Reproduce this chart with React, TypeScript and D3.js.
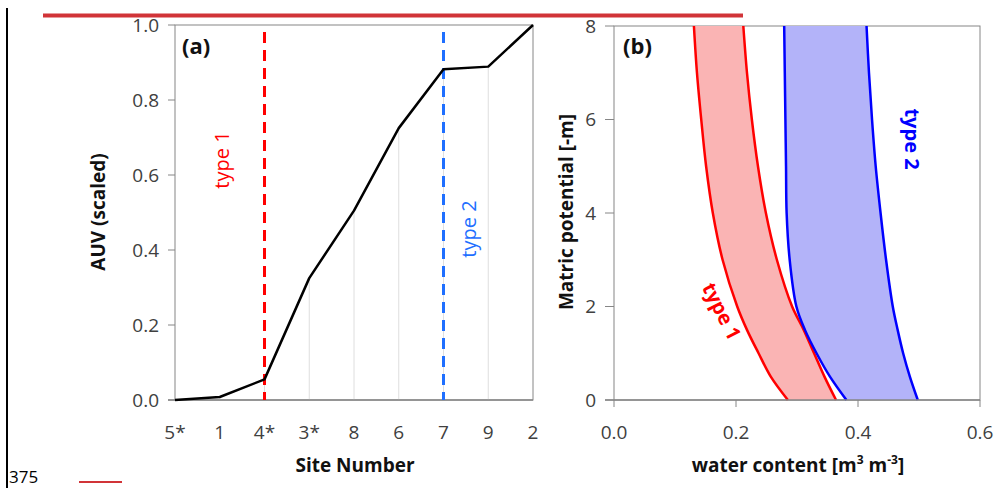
import * as d3 from 'd3'

// panel (a): scaled AUV by site
const sites = ['5*', '1', '4*', '3*', '8', '6', '7', '9', '2']
const auv = [0.0, 0.008, 0.055, 0.325, 0.505, 0.725, 0.882, 0.889, 1.0]
const auvTicks = [0, 0.2, 0.4, 0.6, 0.8, 1.0]

// panel (b): retention curves, matric potential vs water content
const potential = [0, 0.5, 1, 1.5, 2, 3, 4, 5, 6, 7, 8]
const type1Low = [0.285, 0.257, 0.237, 0.218, 0.202, 0.178, 0.162, 0.151, 0.143, 0.136, 0.131]
const type1High = [0.364, 0.345, 0.328, 0.311, 0.292, 0.267, 0.249, 0.236, 0.226, 0.218, 0.212]
const type2Low = [0.381, 0.354, 0.332, 0.313, 0.299, 0.288, 0.283, 0.282, 0.281, 0.28, 0.279]
const type2High = [0.498, 0.485, 0.474, 0.465, 0.457, 0.446, 0.437, 0.429, 0.423, 0.418, 0.414]
const thetaTicks = [0, 0.2, 0.4, 0.6]
const psiTicks = [0, 2, 4, 6, 8]

const font = '"Open Sans", Lato, sans-serif'
const grey = '#868686'
const tickCol = '#404040'

export default function App() {
  const W = 999
  const H = 488

  // (a)
  const xA = d3.scalePoint<string>().domain(sites).range([175, 533])
  const yA = d3.scaleLinear().domain([0, 1]).range([400, 25])
  const auvLine = d3.line<number>()
    .x((_, i) => xA(sites[i])!)
    .y(d => yA(d))

  // (b)
  const xB = d3.scaleLinear().domain([0, 0.6]).range([614, 980])
  const yB = d3.scaleLinear().domain([0, 8]).range([400, 26])

  const band = (lo: number[], hi: number[]) =>
    d3.area<number>()
      .y(d => yB(d))
      .x0((_, i) => xB(lo[i]))
      .x1((_, i) => xB(hi[i]))
      .curve(d3.curveCatmullRom)(potential)!

  const edge = (th: number[]) =>
    d3.line<number>()
      .y(d => yB(d))
      .x((_, i) => xB(th[i]))
      .curve(d3.curveCatmullRom)(potential)!

  return (
    <svg width={W} height={H} style={{ position: 'absolute', left: 0, top: 0 }}
      fontFamily={font}>
      <rect width={W} height={H} fill="#fff" />

      {/* page decorations */}
      <line x1={7} x2={7} y1={8} y2={488} stroke="#000" strokeWidth={2} />
      <line x1={43} x2={743} y1={15.5} y2={15.5} stroke="#d13438" strokeWidth={4} />
      <text x={9} y={483} fontSize={17} fill="#000">375</text>
      <line x1={79} x2={122} y1={482} y2={482} stroke="#d13438" strokeWidth={2} />

      {/* ---------- panel (a) ---------- */}
      <rect x={175} y={25} width={358} height={375} fill="none" stroke={grey} strokeWidth={1} />
      {auv.map((v, i) => i > 0 && i < auv.length - 1 ? (
        <line key={i} x1={xA(sites[i])} x2={xA(sites[i])} y1={yA(v)} y2={yA(0)}
          stroke="#dedede" strokeWidth={1} />
      ) : null)}
      <line x1={168} x2={533} y1={400} y2={400} stroke={grey} strokeWidth={1.5} />
      {auvTicks.map(t => (
        <g key={t}>
          <line x1={168} x2={175} y1={yA(t)} y2={yA(t)} stroke={grey} />
          <text x={159} y={yA(t)} dy="0.36em" textAnchor="end" fontSize={19} fill={tickCol}>
            {t.toFixed(1)}
          </text>
        </g>
      ))}
      {sites.map(s => (
        <text key={s} x={xA(s)} y={439} textAnchor="middle" fontSize={19} fill={tickCol}>{s}</text>
      ))}
      <text x={355} y={472} textAnchor="middle" fontSize={19} fontWeight="bold" fill="#111">Site Number</text>
      <text transform="translate(98,212) rotate(-90)" textAnchor="middle" dominantBaseline="central"
        fontSize={19} fontWeight="bold" fill="#111">AUV (scaled)</text>

      <line x1={xA('4*')} x2={xA('4*')} y1={32} y2={400} stroke="#ff0000" strokeWidth={3}
        strokeDasharray="11,7" />
      <line x1={xA('7')} x2={xA('7')} y1={32} y2={400} stroke="#1f6fff" strokeWidth={3}
        strokeDasharray="11,7" />
      <path d={auvLine(auv)!} fill="none" stroke="#000" strokeWidth={2.5} strokeLinejoin="round" />

      <text transform="translate(221,160) rotate(-90)" textAnchor="middle" dominantBaseline="central"
        fontSize={20} fill="#ff0000">type 1</text>
      <text transform="translate(468,229) rotate(-90)" textAnchor="middle" dominantBaseline="central"
        fontSize={20} fill="#1f6fff">type 2</text>
      <text x={182} y={54} fontSize={22} fontWeight="bold" fill="#111">(a)</text>

      {/* ---------- panel (b) ---------- */}
      <rect x={614} y={26} width={366} height={374} fill="none" stroke={grey} strokeWidth={1} />
      <path d={band(type1Low, type1High)} fill="#fab4b4" />
      <path d={band(type2Low, type2High)} fill="#b3b3f9" />
      <path d={edge(type1Low)} fill="none" stroke="#ff0000" strokeWidth={2.5} />
      <path d={edge(type1High)} fill="none" stroke="#ff0000" strokeWidth={2.5} />
      <path d={edge(type2Low)} fill="none" stroke="#0000ff" strokeWidth={2.5} />
      <path d={edge(type2High)} fill="none" stroke="#0000ff" strokeWidth={2.5} />

      <line x1={605} x2={980} y1={400} y2={400} stroke={grey} strokeWidth={1.5} />
      {psiTicks.map(t => (
        <g key={t}>
          <line x1={605} x2={614} y1={yB(t)} y2={yB(t)} stroke={grey} />
          <text x={596} y={yB(t)} dy="0.36em" textAnchor="end" fontSize={19} fill={tickCol}>{t}</text>
        </g>
      ))}
      {thetaTicks.map(t => (
        <g key={t}>
          <line x1={xB(t)} x2={xB(t)} y1={400} y2={407} stroke={grey} />
          <text x={xB(t)} y={439} textAnchor="middle" fontSize={19} fill={tickCol}>{t.toFixed(1)}</text>
        </g>
      ))}
      <text x={798} y={472} textAnchor="middle" fontSize={19} fontWeight="bold" fill="#111">
        water content [m<tspan fontSize={12} dy={-8}>3</tspan><tspan dy={8}> m</tspan>
        <tspan fontSize={12} dy={-8}>-3</tspan><tspan dy={8}>]</tspan>
      </text>
      <text transform="translate(566,212) rotate(-90)" textAnchor="middle" dominantBaseline="central"
        fontSize={19} fontWeight="bold" fill="#111">Matric potential [-m]</text>

      <text transform="translate(722,311) rotate(63)" textAnchor="middle" dominantBaseline="central"
        fontSize={20} fontWeight="bold" fill="#ff0000">type 1</text>
      <text transform="translate(912,139) rotate(90)" textAnchor="middle" dominantBaseline="central"
        fontSize={20} fontWeight="bold" fill="#0000ff">type 2</text>
      <text x={623} y={54} fontSize={22} fontWeight="bold" fill="#111">(b)</text>
    </svg>
  )
}
